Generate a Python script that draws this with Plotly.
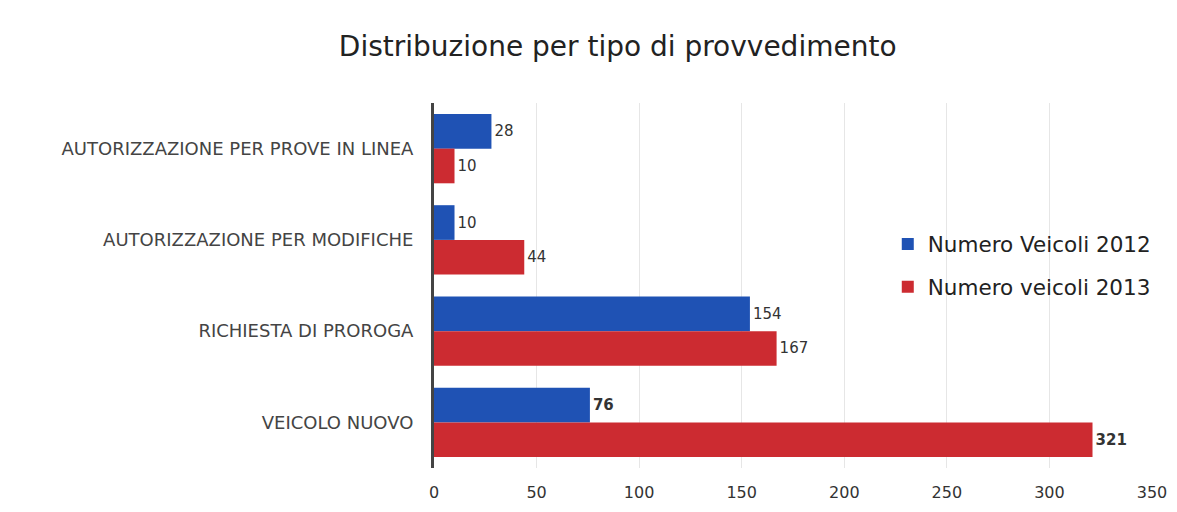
import plotly.graph_objects as go

categories = ["AUTORIZZAZIONE PER PROVE IN LINEA", "AUTORIZZAZIONE PER MODIFICHE",
              "RICHIESTA DI PROROGA", "VEICOLO NUOVO"]
veicoli_2012 = [28, 10, 154, 76]
veicoli_2013 = [10, 44, 167, 321]
bold_labels = [False, False, False, True]
x_ticks = [0, 50, 100, 150, 200, 250, 300, 350]

BLUE = "#1f52b4"
RED = "#cc2b31"
FONT = "DejaVu Sans, sans-serif"

def labels(vals):
    return [f"<b>{v}</b>" if b else str(v) for v, b in zip(vals, bold_labels)]

fig = go.Figure()
fig.add_trace(go.Bar(
    y=categories, x=veicoli_2012, orientation="h", name="Numero Veicoli 2012",
    legendgroup="a",
    marker=dict(color=BLUE, line=dict(width=0)),
    text=labels(veicoli_2012), textposition="outside", constraintext="none",
    textfont=dict(size=15, color="#333333", family=FONT), cliponaxis=False,
))
fig.add_trace(go.Bar(
    y=categories, x=veicoli_2013, orientation="h", name="Numero veicoli 2013",
    legendgroup="b",
    marker=dict(color=RED, line=dict(width=0)),
    text=labels(veicoli_2013), textposition="outside", constraintext="none",
    textfont=dict(size=15, color="#333333", family=FONT), cliponaxis=False,
))

fig.update_layout(
    width=1177, height=512,
    paper_bgcolor="white", plot_bgcolor="white",
    barmode="group", bargap=0.24, bargroupgap=0.0,
    margin=dict(l=426, r=33, t=95, b=52),
    title=dict(text="Distribuzione per tipo di provvedimento", x=0.518, xanchor="center",
               y=0.925, yanchor="middle",
               font=dict(size=28, color="#222222", family=FONT)),
    font=dict(family=FONT, color="#333333"),
    legend=dict(x=0.632, y=0.555, xanchor="left", yanchor="middle",
                bgcolor="rgba(255,255,255,0)", font=dict(size=21.5, color="#222222", family=FONT),
                itemwidth=30, tracegroupgap=12),
    xaxis=dict(range=[0, 350], tickvals=x_ticks, showgrid=True, gridcolor="#e6e6e6",
               zeroline=False, showline=False, ticks="", ticklabelstandoff=13,
               tickfont=dict(size=16, color="#333333", family=FONT)),
    yaxis=dict(autorange="reversed", showline=True, linecolor="#444444", linewidth=3,
               ticks="", ticklabelstandoff=14,
               tickfont=dict(size=18, color="#444444", family=FONT)),
    showlegend=True,
)

fig.write_html("out.html")
